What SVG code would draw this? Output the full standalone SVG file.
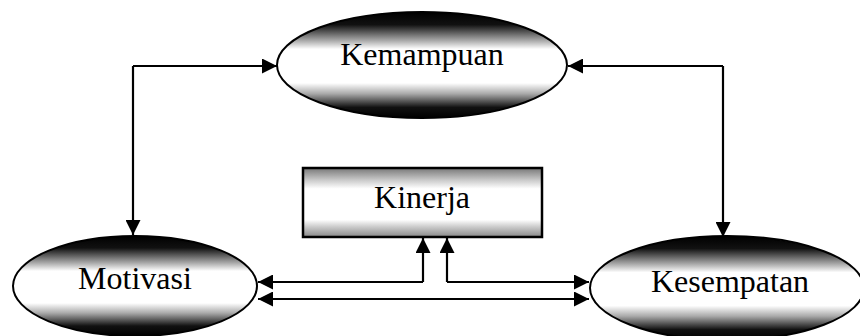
<svg xmlns="http://www.w3.org/2000/svg" width="860" height="336" viewBox="0 0 860 336">
<defs>
<linearGradient id="eg" x1="0" y1="0" x2="0" y2="1">
<stop offset="0" stop-color="#000"/>
<stop offset="0.12" stop-color="#111"/>
<stop offset="0.27" stop-color="#aaa"/>
<stop offset="0.35" stop-color="#fff"/>
<stop offset="0.67" stop-color="#fff"/>
<stop offset="0.77" stop-color="#aaa"/>
<stop offset="0.9" stop-color="#111"/>
<stop offset="1" stop-color="#000"/>
</linearGradient>
<linearGradient id="bg" x1="0" y1="0" x2="0" y2="1">
<stop offset="0" stop-color="#777"/>
<stop offset="0.18" stop-color="#ccc"/>
<stop offset="0.3" stop-color="#fff"/>
<stop offset="0.75" stop-color="#fff"/>
<stop offset="0.85" stop-color="#ccc"/>
<stop offset="1" stop-color="#888"/>
</linearGradient>
<marker id="ah" viewBox="0 0 10 10" refX="10" refY="5" markerWidth="15" markerHeight="15" markerUnits="userSpaceOnUse" orient="auto-start-reverse">
<path d="M0,0 L10,5 L0,10 Z" fill="#000"/>
</marker>
<style>
.shape{fill:url(#eg);stroke:#000;stroke-width:2}
.box{fill:url(#bg);stroke:#000;stroke-width:2.5}
.lbl{font-family:"Liberation Serif","Times New Roman",serif;font-size:32px;fill:#000;text-anchor:middle}
.c{fill:none;stroke:#000;stroke-width:2.2}
</style>
</defs>
<g id="connectors">
<path class="c" d="M133,66 L277,66" marker-end="url(#ah)"/>
<path class="c" d="M133,66 L133,235" marker-end="url(#ah)"/>
<path class="c" d="M723,66 L568,66" marker-end="url(#ah)"/>
<path class="c" d="M723,66 L723,237" marker-end="url(#ah)"/>
<path class="c" d="M423,282 L423,238" marker-end="url(#ah)"/>
<path class="c" d="M423,282 L258,282" marker-end="url(#ah)"/>
<path class="c" d="M447,282 L447,238" marker-end="url(#ah)"/>
<path class="c" d="M447,282 L589,282" marker-end="url(#ah)"/>
<path class="c" d="M258,299 L589,299" marker-start="url(#ah)" marker-end="url(#ah)"/>
</g>
<g id="kemampuan">
<ellipse class="shape" cx="422" cy="65" rx="145" ry="53"/>
<text class="lbl" x="422" y="65">Kemampuan</text>
</g>
<g id="kinerja">
<rect class="box" x="303" y="168" width="239" height="69"/>
<text class="lbl" x="422" y="208">Kinerja</text>
</g>
<g id="motivasi">
<ellipse class="shape" cx="135" cy="286" rx="122" ry="50"/>
<text class="lbl" x="135" y="289">Motivasi</text>
</g>
<g id="kesempatan">
<ellipse class="shape" cx="727" cy="288" rx="137" ry="52"/>
<text class="lbl" x="730" y="292">Kesempatan</text>
</g>
</svg>
